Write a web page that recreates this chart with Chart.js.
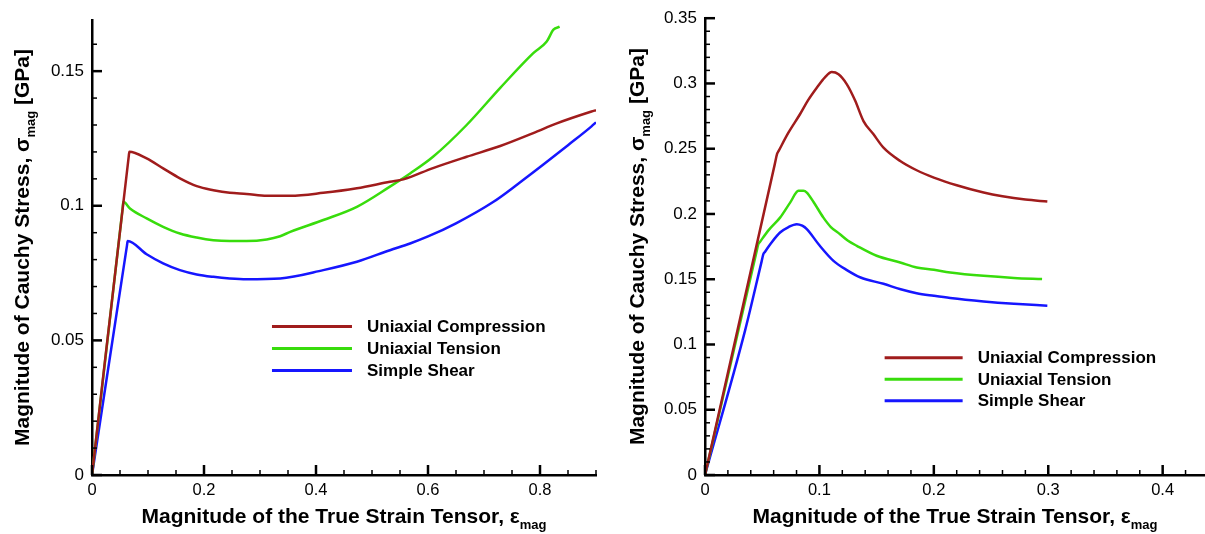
<!DOCTYPE html>
<html>
<head>
<meta charset="utf-8">
<script src="https://cdn.jsdelivr.net/npm/chart.js@4.4.0/dist/chart.umd.min.js"></script>
<style>
  body { margin: 0; background: #fff; width: 1205px; height: 534px; overflow: hidden; position: relative; }
  .box { position: absolute; top: 0; height: 534px; }
</style>
</head>
<body>
<div class="box" style="left:0;width:600px"><canvas id="leftChart"></canvas></div>
<div class="box" style="left:600px;width:605px"><canvas id="rightChart"></canvas></div>
<script>
// series names + colours (same on both plots)
const seriesNames = ['Uniaxial Compression', 'Uniaxial Tension', 'Simple Shear'];
const seriesColors = ['#a01c1c', '#38dc0c', '#1616ff'];

// left plot, strain up to 0.9
const leftCompX = [0, 0.0655, 0.0667, 0.0976, 0.127, 0.157, 0.187, 0.2167, 0.246, 0.276, 0.312, 0.354, 0.413, 0.473, 0.532, 0.556, 0.609, 0.669, 0.729, 0.788, 0.83, 0.892, 0.9];
const leftCompY = [0, 0.1182, 0.1201, 0.1176, 0.1139, 0.1102, 0.1073, 0.1058, 0.1048, 0.1044, 0.1037, 0.1037, 0.1048, 0.1065, 0.1089, 0.1098, 0.114, 0.1182, 0.1222, 0.127, 0.1306, 0.135, 0.1355];
const leftTensX = [0, 0.0548, 0.056, 0.0678, 0.0976, 0.127, 0.157, 0.187, 0.2167, 0.246, 0.276, 0.312, 0.336, 0.354, 0.413, 0.473, 0.532, 0.568, 0.609, 0.669, 0.729, 0.788, 0.812, 0.824, 0.835];
const leftTensY = [0, 0.0993, 0.1015, 0.099, 0.0953, 0.0922, 0.0897, 0.0882, 0.0872, 0.0869, 0.0869, 0.0875, 0.0887, 0.0903, 0.0947, 0.0996, 0.1071, 0.112, 0.1182, 0.13, 0.1438, 0.1567, 0.161, 0.1654, 0.1665];
const leftShearX = [0, 0.0625, 0.0637, 0.0976, 0.127, 0.157, 0.187, 0.2167, 0.246, 0.276, 0.336, 0.413, 0.473, 0.532, 0.568, 0.6, 0.65, 0.717, 0.76, 0.806, 0.85, 0.892, 0.9];
const leftShearY = [0, 0.0853, 0.0869, 0.082, 0.0786, 0.0761, 0.0745, 0.0736, 0.073, 0.0727, 0.073, 0.0761, 0.0792, 0.0835, 0.086, 0.0886, 0.0935, 0.1015, 0.108, 0.1153, 0.1225, 0.1295, 0.131];
const leftXTicks = [0, 0.2, 0.4, 0.6, 0.8];
const leftYTicks = [0, 0.05, 0.1, 0.15];

// right plot, strain up to 0.3
const rightCompX = [0, 0.061, 0.063, 0.0645, 0.0729, 0.083, 0.09, 0.0977, 0.105, 0.1108, 0.1167, 0.124, 0.1312, 0.1385, 0.1473, 0.156, 0.1706, 0.185, 0.2, 0.22, 0.2435, 0.26, 0.28, 0.2992];
const rightCompY = [0, 0.2382, 0.246, 0.2485, 0.2623, 0.2764, 0.287, 0.2967, 0.3049, 0.3087, 0.307, 0.2993, 0.2869, 0.2712, 0.261, 0.2508, 0.2406, 0.2335, 0.2279, 0.222, 0.2164, 0.2135, 0.211, 0.2095];
const rightTensX = [0, 0.045, 0.0466, 0.048, 0.056, 0.0656, 0.0744, 0.0817, 0.086, 0.089, 0.095, 0.1035, 0.11, 0.118, 0.125, 0.1327, 0.15, 0.1706, 0.185, 0.2, 0.2143, 0.2435, 0.27, 0.2946];
const rightTensY = [0, 0.1708, 0.1769, 0.1786, 0.188, 0.1972, 0.2087, 0.2177, 0.2178, 0.2164, 0.209, 0.1972, 0.19, 0.1845, 0.1795, 0.1756, 0.168, 0.1628, 0.159, 0.1572, 0.1552, 0.1526, 0.151, 0.1501];
const rightShearX = [0, 0.035, 0.0495, 0.051, 0.0525, 0.058, 0.0656, 0.073, 0.0802, 0.085, 0.089, 0.1, 0.1123, 0.124, 0.136, 0.156, 0.171, 0.185, 0.2, 0.2143, 0.2435, 0.27, 0.2992];
const rightShearY = [0, 0.1106, 0.1637, 0.1692, 0.1711, 0.178, 0.1858, 0.19, 0.1922, 0.191, 0.1884, 0.176, 0.1641, 0.157, 0.1513, 0.1465, 0.1423, 0.1393, 0.1373, 0.1356, 0.133, 0.1312, 0.1297];
const rightXTicks = [0, 0.1, 0.2, 0.3, 0.4];
const rightYTicks = [0, 0.05, 0.1, 0.15, 0.2, 0.25, 0.3, 0.35];

const FONT = "'Liberation Sans', Arial, Helvetica, sans-serif";

// tecplot style ticks pointing into the plot
const innerTicks = {
  id: 'innerTicks',
  afterDatasetsDraw(chart, args, o) {
    const { ctx, chartArea: a, scales: { x, y } } = chart;
    ctx.save();
    ctx.strokeStyle = '#000';
    const isMajor = (v, step) => Math.abs(v / step - Math.round(v / step)) < 1e-6;
    for (let i = 0; i * o.xMinor <= x.max + 1e-9; i++) {
      const v = i * o.xMinor, px = x.getPixelForValue(v);
      const big = isMajor(v, o.xMajor);
      ctx.lineWidth = big ? 2.5 : 1.5;
      ctx.beginPath(); ctx.moveTo(px, a.bottom); ctx.lineTo(px, a.bottom - (big ? 10 : 5)); ctx.stroke();
    }
    for (let i = 0; i * o.yMinor <= y.max + 1e-9; i++) {
      const v = i * o.yMinor, py = y.getPixelForValue(v);
      const big = isMajor(v, o.yMajor);
      ctx.lineWidth = big ? 2.5 : 1.5;
      ctx.beginPath(); ctx.moveTo(a.left, py); ctx.lineTo(a.left + (big ? 10 : 5), py); ctx.stroke();
    }
    ctx.restore();
  }
};

// legend sitting inside the plot
const boxLegend = {
  id: 'boxLegend',
  afterDatasetsDraw(chart, args, o) {
    const { ctx, scales: { x, y } } = chart;
    const x0 = x.getPixelForValue(o.x), y0 = y.getPixelForValue(o.y);
    ctx.save();
    ctx.font = 'bold 17px ' + FONT;
    ctx.textBaseline = 'middle';
    chart.data.datasets.forEach((ds, i) => {
      const yy = y0 + i * o.row;
      ctx.strokeStyle = ds.borderColor; ctx.lineWidth = 3;
      ctx.beginPath(); ctx.moveTo(x0, yy); ctx.lineTo(x0 + o.len, yy); ctx.stroke();
      ctx.fillStyle = '#000';
      ctx.fillText(ds.label, x0 + o.gap, yy + 1);
    });
    ctx.restore();
  }
};

// axis titles with subscripts
function drawParts(ctx, parts) {
  const main = 'bold 21px ' + FONT, sub = 'bold 13px ' + FONT;
  let w = 0;
  parts.forEach(p => { ctx.font = p.sub ? sub : main; w += ctx.measureText(p.t).width; });
  let cx = -w / 2;
  parts.forEach(p => {
    ctx.font = p.sub ? sub : main;
    ctx.fillText(p.t, cx, p.sub ? 6 : 0);
    cx += ctx.measureText(p.t).width;
  });
}
const axisTitles = {
  id: 'axisTitles',
  afterDraw(chart, args, o) {
    const { ctx, chartArea: a } = chart;
    ctx.save();
    ctx.fillStyle = '#000';
    ctx.textBaseline = 'alphabetic';
    ctx.textAlign = 'left';
    ctx.translate((a.left + a.right) / 2, a.bottom + o.xOff);
    drawParts(ctx, o.xParts);
    ctx.restore();
    ctx.save();
    ctx.fillStyle = '#000';
    ctx.textBaseline = 'alphabetic';
    ctx.textAlign = 'left';
    ctx.translate(a.left + o.yOff, (a.top + a.bottom) / 2);
    ctx.rotate(-Math.PI / 2);
    drawParts(ctx, o.yParts);
    ctx.restore();
  }
};

const xTitle = [{ t: 'Magnitude of the True Strain Tensor, \u03b5' }, { t: 'mag', sub: true }];
const yTitle = [{ t: 'Magnitude of Cauchy Stress, \u03c3' }, { t: 'mag', sub: true }, { t: ' [GPa]' }];

function makeChart(id, c) {
  return new Chart(document.getElementById(id), {
    type: 'line',
    data: {
      datasets: c.series.map((s, i) => ({
        label: seriesNames[i],
        data: s[0].map((xv, k) => ({ x: xv, y: s[1][k] })),
        borderColor: seriesColors[i],
        borderWidth: 2.5,
        pointRadius: 0,
        cubicInterpolationMode: 'monotone',
        fill: false
      }))
    },
    options: {
      responsive: true,
      maintainAspectRatio: false,
      animation: false,
      events: [],
      layout: { padding: c.pad },
      plugins: {
        legend: { display: false },
        tooltip: { enabled: false },
        innerTicks: c.minor,
        boxLegend: c.legend,
        axisTitles: { xParts: xTitle, yParts: yTitle, xOff: 48, yOff: c.yOff }
      },
      scales: {
        x: {
          type: 'linear', min: 0, max: c.xMax,
          afterBuildTicks: s => { s.ticks = c.xTicks.map(v => ({ value: v })); },
          afterFit: s => { s.height = 59; },
          grid: { display: false, drawTicks: false },
          border: { color: '#000', width: 2.5 },
          ticks: { color: '#000', font: { family: FONT, size: 16.5 }, padding: 6, maxRotation: 0, autoSkip: false, callback: v => String(v) }
        },
        y: {
          type: 'linear', min: 0, max: c.yMax,
          afterBuildTicks: s => { s.ticks = c.yTicks.map(v => ({ value: v })); },
          afterFit: s => { s.width = c.yWidth; },
          grid: { display: false, drawTicks: false },
          border: { color: '#000', width: 2.5 },
          ticks: { color: '#000', font: { family: FONT, size: 17 }, padding: 8, autoSkip: false, callback: v => String(v) }
        }
      }
    },
    plugins: [innerTicks, boxLegend, axisTitles]
  });
}

makeChart('leftChart', {
  series: [[leftCompX, leftCompY], [leftTensX, leftTensY], [leftShearX, leftShearY]],
  xTicks: leftXTicks, yTicks: leftYTicks, xMax: 0.9, yMax: 0.169,
  pad: { top: 20, right: 4, left: 0, bottom: 0 }, yWidth: 92, yOff: -63,
  minor: { xMinor: 0.05, xMajor: 0.2, yMinor: 0.01, yMajor: 0.05 },
  legend: { x: 0.3214, y: 0.0552, row: 22, len: 80, gap: 95 }
});

makeChart('rightChart', {
  series: [[rightCompX, rightCompY], [rightTensX, rightTensY], [rightShearX, rightShearY]],
  xTicks: rightXTicks, yTicks: rightYTicks, xMax: 0.437, yMax: 0.35,
  pad: { top: 17, right: 0, left: 0, bottom: 0 }, yWidth: 105, yOff: -61,
  minor: { xMinor: 0.02, xMajor: 0.1, yMinor: 0.01, yMajor: 0.05 },
  legend: { x: 0.157, y: 0.0899, row: 21.5, len: 78, gap: 93 }
});
</script>
</body>
</html>
